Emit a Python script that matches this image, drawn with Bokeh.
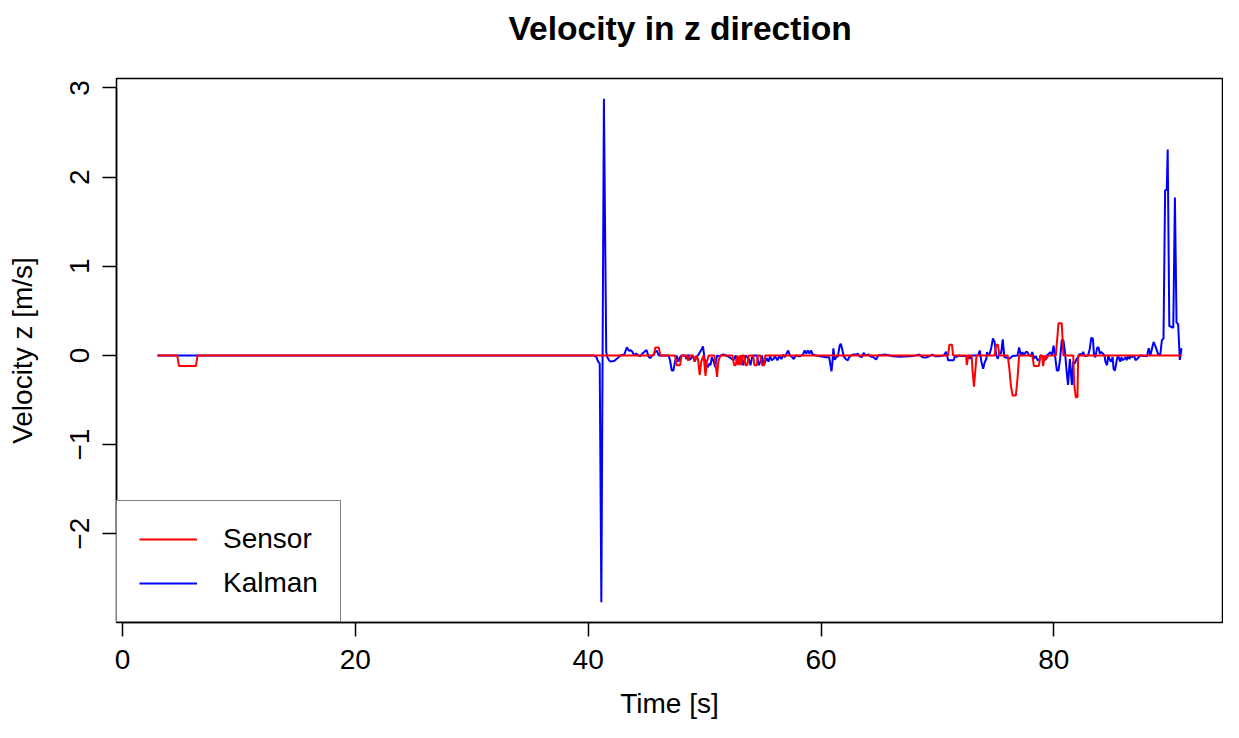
from bokeh.plotting import figure
from bokeh.models import Range1d, FixedTicker, Legend, LegendItem, ColumnDataSource, Title
from bokeh.embed import file_html
from bokeh.resources import INLINE

# ---- data ----
kalman_t = [3.0, 40.5, 40.71, 40.85, 40.99, 41.13, 41.35, 41.55, 41.64, 41.83, 41.97, 42.26, 42.54, 42.76,
            43.10, 43.32, 43.52, 43.66, 43.80, 43.94, 44.08, 44.23, 44.45, 44.65, 44.84, 45.01, 45.21, 45.35,
            45.49, 45.63, 45.77, 45.91, 46.06, 46.90, 47.04, 47.18, 47.32, 47.46, 47.60, 47.74, 47.89, 48.03,
            48.31, 48.45, 48.59, 48.73, 49.01, 49.15, 49.29, 49.43, 49.71, 49.86, 50.0, 50.14, 50.28, 50.42,
            50.51, 50.62, 50.79, 50.90, 51.07, 51.27, 51.6, 52.0, 52.48, 52.67, 52.82, 52.96, 53.15, 53.32,
            53.52, 53.80, 53.94, 54.08, 54.22, 54.50, 54.64, 54.79, 54.93, 55.07, 55.21, 55.35, 55.49, 55.63,
            55.77, 55.91, 56.05, 56.25, 56.42, 56.62, 56.76, 56.90, 57.04, 57.18, 57.32, 57.46, 57.66, 57.83,
            58.16, 58.45, 58.59, 58.73, 58.87, 59.01, 59.15, 59.29, 59.57, 60.42, 60.70, 60.80, 60.90, 61.00,
            61.06, 61.18, 61.30, 61.45, 61.60, 61.70, 61.80, 61.95, 62.12, 62.30, 62.42, 62.59, 62.81, 63.04,
            63.15, 63.32, 63.52, 63.66, 63.80, 64.08, 64.22, 64.50, 64.73, 64.92, 65.49, 66.19, 66.75, 67.6,
            68.16, 68.44, 68.72, 69.0, 69.29, 69.57, 69.85, 70.13, 70.55, 70.75, 70.92, 71.11, 71.39, 71.53,
            71.67, 71.81, 71.95, 72.52, 72.66, 72.80, 72.94, 73.50, 73.64, 73.78, 73.93, 74.07, 74.21, 74.26,
            74.35, 74.49, 74.63, 74.77, 74.91, 75.05, 75.19, 75.33, 75.47, 75.61, 75.75, 76.04, 76.18, 76.46,
            76.88, 77.02, 77.16, 77.30, 77.44, 77.58, 77.73, 77.87, 78.01, 78.15, 78.29, 78.43, 78.63, 78.77,
            78.85, 79.13, 79.27, 79.41, 79.70, 79.84, 79.98, 80.12, 80.26, 80.40, 80.54, 80.68, 80.82, 80.96,
            81.10, 81.22, 81.38, 81.55, 81.67, 81.81, 81.95, 82.09, 82.24, 82.38, 82.52, 82.66, 82.94, 83.08,
            83.22, 83.36, 83.45, 83.56, 83.73, 83.84, 83.95, 84.07, 84.35, 84.43, 84.57, 84.68, 84.77, 84.91,
            85.05, 85.13, 85.25, 85.42, 85.53, 85.61, 85.70, 85.81, 85.89, 86.04, 86.18, 86.26, 86.37, 86.49,
            86.60, 86.74, 86.88, 87.02, 87.16, 87.30, 87.44, 88.0, 88.15, 88.29, 88.57, 88.71, 88.94, 89.14,
            89.28, 89.42, 89.56, 89.70, 89.78, 89.92, 90.26, 90.40, 90.54, 90.68, 90.82, 90.97]
kalman_v = [0.0, 0.0, -0.02, -0.07, -0.09, -2.77, 2.88, 0.04, -0.02, -0.06, -0.07, -0.06, -0.03, 0.0,
            0.01, 0.09, 0.05, 0.06, 0.04, 0.0, 0.02, 0.01, -0.01, 0.02, 0.04, 0.06, -0.02, -0.03,
            0.0, 0.01, 0.04, 0.05, 0.0, 0.0, -0.06, -0.17, -0.17, -0.07, 0.0, -0.07, -0.02, 0.0,
            0.0, -0.04, 0.01, -0.05, 0.0, -0.07, -0.02, 0.0, 0.06, 0.10, -0.04, -0.11, -0.13, -0.09,
            -0.11, -0.02, -0.07, -0.13, 0.0, -0.01, 0.01, -0.01, -0.055, 0.0, -0.10, -0.04, 0.0, -0.11,
            0.0, -0.04, -0.11, -0.02, 0.0, 0.0, -0.11, -0.07, 0.0, -0.11, -0.07, -0.03, -0.07, -0.01,
            -0.055, -0.04, -0.01, -0.055, -0.01, -0.04, 0.01, -0.02, 0.02, 0.055, 0.0, -0.01, -0.04, 0.0,
            -0.01, 0.01, 0.055, 0.02, 0.055, 0.02, 0.055, 0.01, 0.0, -0.02, -0.02, -0.10, -0.18, -0.05,
            0.08, -0.05, -0.02, -0.01, 0.11, 0.13, 0.08, -0.01, -0.04, -0.055, -0.02, 0.0, 0.01, 0.01,
            0.02, -0.01, -0.02, 0.03, 0.0, 0.01, -0.01, -0.02, -0.045, 0.0, 0.01, -0.01, -0.015, -0.01,
            0.0, 0.01, -0.02, -0.025, -0.01, 0.01, -0.01, -0.01, 0.0, 0.04, -0.055, -0.055, -0.055, 0.0,
            -0.02, 0.0, -0.007, -0.007, 0.0, -0.037, 0.0, 0.0, 0.055, -0.074, -0.15, -0.074, -0.037, 0.037,
            0.0, 0.018, 0.09, 0.19, 0.15, 0.0, -0.037, 0.037, 0.018, 0.18, -0.018, -0.03, -0.037, -0.007,
            0.0, 0.09, 0.0, 0.037, 0.0, 0.037, 0.037, 0.0, -0.007, 0.037, -0.037, -0.007, -0.055, -0.055,
            0.0, -0.018, -0.055, 0.0, 0.037, 0.0, 0.11, -0.018, -0.17, -0.17, -0.037, 0.17, 0.17, 0.037,
            -0.18, -0.33, -0.04, -0.33, -0.07, -0.09, -0.04, -0.02, 0.02, 0.0, 0.04, -0.01, 0.0, 0.07,
            0.20, 0.185, 0.0, -0.02, 0.09, 0.09, 0.02, 0.04, 0.0, -0.07, -0.11, 0.0, -0.04, -0.07,
            -0.02, -0.15, -0.17, -0.04, 0.0, -0.04, -0.07, -0.02, -0.055, -0.04, -0.02, -0.055, 0.0, -0.04,
            -0.01, -0.02, 0.0, -0.055, -0.04, -0.02, 0.0, -0.01, 0.08, 0.0, 0.15, 0.11, 0.02, 0.0,
            0.17, 0.19, 1.85, 1.86, 2.31, 0.33, 0.31, 1.77, 0.37, 0.35, -0.05, 0.08]

sensor_t = [3.0, 4.7, 4.85, 6.3, 6.45, 45.63, 45.77, 46.06, 46.20, 47.46, 47.60, 47.89, 48.03, 48.45,
            48.59, 48.73, 49.01, 49.15, 49.29, 49.43, 49.58, 49.71, 49.91, 50.08, 50.19, 50.36, 50.84, 50.99,
            51.07, 51.18, 51.35, 52.39, 52.53, 52.67, 52.82, 52.96, 53.04, 53.15, 53.24, 53.38, 53.52, 53.66,
            53.80, 54.17, 54.28, 54.50, 54.56, 54.79, 54.93, 55.12, 55.21, 70.92, 71.03, 71.25, 71.34, 72.46,
            72.52, 72.66, 72.94, 73.02, 73.14, 73.25, 73.36, 74.91, 75.05, 75.19, 75.33, 76.04, 76.18, 76.32,
            76.46, 76.74, 76.88, 77.02, 78.15, 78.29, 78.71, 78.85, 78.99, 79.08, 79.22, 79.36, 79.50, 80.17,
            80.30, 80.40, 80.68, 80.82, 81.67, 81.75, 81.89, 82.03, 82.09, 90.97]
sensor_v = [0.0, 0.0, -0.12, -0.12, 0.0, 0.0, 0.09, 0.09, 0.0, 0.0, -0.11, -0.11, 0.0, 0.0,
            -0.06, 0.0, 0.0, -0.07, 0.0, -0.04, -0.22, -0.07, 0.0, -0.23, -0.07, 0.0, 0.0, -0.15,
            -0.24, -0.07, 0.0, 0.0, -0.11, -0.11, 0.0, -0.11, 0.0, -0.11, 0.0, 0.0, -0.11, -0.11,
            0.0, 0.0, -0.11, -0.11, 0.0, 0.0, -0.11, -0.11, 0.0, 0.0, 0.12, 0.12, 0.0, 0.0,
            -0.11, 0.0, 0.0, -0.18, -0.35, -0.18, 0.0, 0.0, 0.12, 0.12, 0.0, 0.0, -0.15, -0.35,
            -0.45, -0.45, -0.26, 0.0, 0.0, -0.12, -0.12, 0.0, 0.0, -0.12, 0.0, -0.04, 0.0, 0.0,
            0.20, 0.36, 0.36, 0.0, 0.0, -0.33, -0.47, -0.47, 0.0, 0.0]

x_ticks = [0, 20, 40, 60, 80]
y_ticks = [-2, -1, 0, 1, 2, 3]
y_tick_labels = ["\u22122", "\u22121", "0", "1", "2", "3"]
series_names = ["Sensor", "Kalman"]
series_colors = ["#FF0000", "#0000FF"]
title_text = "Velocity in z direction"

# R-style 4% range extension
all_t = kalman_t + sensor_t
all_v = kalman_v + sensor_v
tlo, thi = min(all_t), max(all_t)
vlo, vhi = min(all_v), max(all_v)
tpad = 0.04 * (thi - tlo)
vpad = 0.04 * (vhi - vlo)

FONT = "Liberation Sans"
W, H = 1223, 722
BL, BR, BT, BB = 116, 1, 78, 100

p = figure(width=W, height=H, output_backend="svg", toolbar_location=None,
           x_range=Range1d(tlo - tpad, thi + tpad), y_range=Range1d(vlo - vpad, vhi + vpad),
           min_border_left=BL, min_border_right=BR, min_border_top=BT, min_border_bottom=BB,
           background_fill_color="white", border_fill_color="white")

p.grid.visible = False
p.outline_line_color = "black"
p.outline_line_width = 1.5

# main title
p.title.text = title_text
p.title.align = "left"
p.title.offset = 392
p.title.text_font = FONT
p.title.text_font_size = "33.6px"
p.title.text_font_style = "bold"
p.title.text_color = "black"
p.title.standoff = 0
# blank spacer between title and plot box
p.add_layout(Title(text=" ", text_font_size="1px", standoff=29), "above")

src_k = ColumnDataSource(dict(t=kalman_t, v=kalman_v))
src_s = ColumnDataSource(dict(t=sensor_t, v=sensor_v))
r_k = p.line("t", "v", source=src_k, line_color=series_colors[1], line_width=2.0)
r_s = p.line("t", "v", source=src_s, line_color=series_colors[0], line_width=2.0)

for ax in (p.xaxis[0], p.yaxis[0]):
    ax.axis_line_color = "black"
    ax.axis_line_width = 1.5
    ax.major_tick_line_color = "black"
    ax.major_tick_line_width = 1.5
    ax.major_tick_in = 0
    ax.major_tick_out = 14
    ax.minor_tick_line_color = None
    ax.major_label_text_font = FONT
    ax.major_label_text_font_size = "28px"
    ax.major_label_text_color = "black"
    ax.axis_label_text_font = FONT
    ax.axis_label_text_font_size = "28px"
    ax.axis_label_text_font_style = "normal"
    ax.axis_label_text_color = "black"

xa = p.xaxis[0]
xa.ticker = FixedTicker(ticks=x_ticks)
xa.bounds = (x_ticks[0], x_ticks[-1])
xa.axis_label = "Time [s]"
xa.major_label_standoff = 13
xa.axis_label_standoff = 16

ya = p.yaxis[0]
ya.ticker = FixedTicker(ticks=y_ticks)
ya.bounds = (y_ticks[0], y_ticks[-1])
ya.major_label_overrides = {t: l for t, l in zip(y_ticks, y_tick_labels)}
ya.major_label_orientation = "vertical"
ya.axis_label = "Velocity z [m/s]"
ya.major_label_standoff = 13
ya.axis_label_standoff = 30

legend = Legend(items=[LegendItem(label=series_names[0], renderers=[r_s]),
                       LegendItem(label=series_names[1], renderers=[r_k])],
                location=(0, 0), orientation="vertical",
                border_line_color="black", border_line_width=1.5,
                background_fill_color="white", background_fill_alpha=1.0,
                padding=22, spacing=12, margin=0,
                glyph_width=58, glyph_height=30, label_height=30, label_standoff=26,
                label_text_font=FONT, label_text_font_size="28px", label_text_color="black")
p.add_layout(legend)

open("out.html", "w").write(file_html(p, INLINE))
